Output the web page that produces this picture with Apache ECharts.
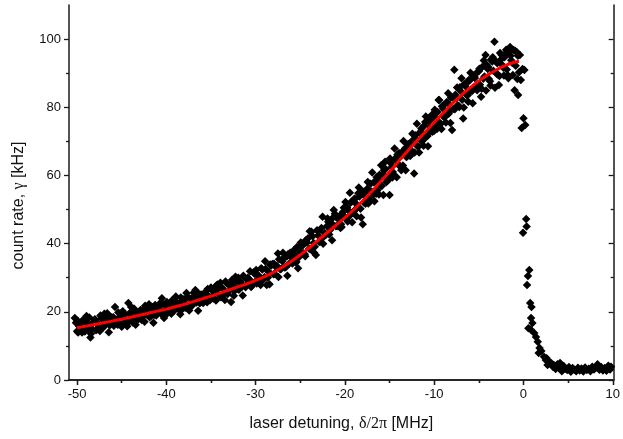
<!DOCTYPE html>
<html><head><meta charset="utf-8">
<script src="https://cdn.jsdelivr.net/npm/echarts@6/dist/echarts.min.js"></script>
<style>html,body{margin:0;padding:0;background:#fff}#c{width:623px;height:439px}</style>
</head><body><div id="c"></div>
<script>
// measured detuning (MHz), first set
const detuning = [
-50.25,-50.0,-49.75,-49.5,-49.25,-49.0,-48.75,-48.5,-48.25,-48.0,-47.75,-47.5,-47.25,-47.0,-46.75,-46.5,-46.25,-46.0,-45.75,-45.5,-45.25,-45.0,
-44.75,-44.5,-44.25,-44.0,-43.75,-43.5,-43.25,-43.0,-42.75,-42.5,-42.25,-42.0,-41.75,-41.5,-41.25,-41.0,-40.75,-40.5,-40.25,-40.0,
-39.75,-39.5,-39.25,-39.0,-38.75,-38.5,-38.25,-38.0,-37.75,-37.5,-37.25,-37.0,-36.75,-36.5,-36.25,-36.0,-35.75,-35.5,-35.25,-35.0,
-34.75,-34.5,-34.25,-34.0,-33.75,-33.5,-33.25,-33.0,-32.75,-32.5,-32.25,-32.0,-31.75,-31.5,-31.25,-31.0,-30.75,-30.5,-30.25,-30.0,
-29.75,-29.5,-29.25,-29.0,-28.75,-28.5,-28.25,-28.0,-27.75,-27.5,-27.25,-27.0,-26.75,-26.5,-26.25,-26.0,-25.75,-25.5,-25.25,-25.0,
-24.75,-24.5,-24.25,-24.0,-23.75,-23.5,-23.25,-23.0,-22.75,-22.5,-22.25,-22.0,-21.75,-21.5,-21.25,-21.0,-20.75,-20.5,-20.25,-20.0,
-19.75,-19.5,-19.25,-19.0,-18.75,-18.5,-18.25,-18.0,-17.75,-17.5,-17.25,-17.0,-16.75,-16.5,-16.25,-16.0,-15.75,-15.5,-15.25,-15.0,
-14.75,-14.5,-14.25,-14.0,-13.75,-13.5,-13.25,-13.0,-12.75,-12.5,-12.25,-12.0,-11.75,-11.5,-11.25,-11.0,-10.75,-10.5,-10.25,-10.0,
-9.75,-9.5,-9.25,-9.0,-8.75,-8.5,-8.25,-8.0,-7.75,-7.5,-7.25,-7.0,-6.75,-6.5,-6.25,-6.0,-5.75,-5.5,-5.25,-5.0,
-4.75,-4.5,-4.25,-4.0,-3.75,-3.5,-3.25,-3.0,-2.75,-2.5,-2.25,-2.0,-1.75,-1.5,-1.25,-1.0,-0.75,-0.5,
-0.6,-0.4,-0.3,-0.1,0.1,0.0,0.2,-0.2,0.3,0.35,-0.05,0.65,0.5,0.4,0.75,0.9,0.85,1.0,0.55,0.8,1.2,1.4,1.6,1.8,1.7,2.0,2.3,2.5,2.7,2.6,2.9,
3.1,3.3,3.4,3.6,3.8,4.0,4.1,4.3,4.5,4.7,4.9,5.1,5.3,5.5,5.7,5.9,6.1,6.3,6.5,6.7,6.9,7.1,7.3,7.5,7.7,7.9,8.1,8.3,8.5,8.7,8.9,9.1,9.3,9.5,9.7,9.8
];
// measured count rate (kHz), first set
const countRate = [
18.2,14.3,15.8,16.9,14.7,17.2,15.1,12.5,16.6,17.8,14.9,16.3,18.1,15.6,17.4,19.0,16.2,17.9,21.4,16.8,18.5,15.6,
19.3,17.2,22.6,18.9,16.9,20.1,18.3,19.8,17.6,20.7,19.2,21.1,18.7,20.3,22.0,19.5,21.6,24.0,18.2,20.9,
22.3,20.4,21.8,23.1,21.0,22.6,20.7,23.4,25.5,21.9,23.8,22.4,26.4,24.1,22.5,25.0,23.3,26.2,24.6,27.1,
23.9,25.8,28.0,24.7,26.9,25.3,28.4,26.0,22.9,27.6,30.3,26.8,28.9,27.4,30.1,28.0,29.6,27.3,31.5,29.0,
30.8,28.6,32.4,30.2,27.9,31.7,33.6,31.0,33.2,37.1,32.5,34.8,33.0,36.2,34.1,35.9,38.0,34.5,32.8,37.6,
39.4,36.9,40.3,38.5,43.5,40.2,36.7,42.4,40.6,47.9,43.1,45.2,42.7,46.0,49.9,45.1,47.3,44.6,49.2,47.8,
50.6,48.1,52.3,49.4,51.7,54.8,50.2,45.7,53.9,56.1,52.8,55.3,57.9,54.6,59.2,57.0,60.4,64.0,58.8,54.3,
62.5,60.1,65.3,63.2,66.4,62.9,68.0,65.6,69.3,67.2,60.6,70.8,68.5,72.9,70.3,75.7,71.6,74.4,77.8,73.1,
76.5,82.1,75.2,79.6,77.4,81.3,78.9,73.3,91.0,82.7,80.4,84.6,76.7,86.2,83.5,87.9,84.8,89.1,86.0,90.6,
83.1,88.4,95.3,91.2,87.6,93.4,99.2,89.8,86.5,94.1,91.6,95.8,89.4,97.7,93.0,85.0,96.2,90.3,
83.6,95.3,88.0,91.2,90.9,76.8,74.8,73.9,47.2,45.0,43.2,32.3,30.5,27.9,22.6,21.4,18.2,16.7,15.2,14.8,13.8,12.6,11.2,9.4,7.9,8.5,6.8,5.9,4.4,6.4,5.2,
5.0,3.9,4.4,3.2,4.6,3.5,5.0,2.6,4.1,3.3,2.9,3.8,2.4,3.5,3.0,2.6,3.6,2.8,3.4,2.5,3.7,2.9,3.3,2.6,3.9,3.1,3.6,4.6,3.0,3.8,2.8,3.5,2.7,4.2,3.1,3.9
];
// measured detuning (MHz), second set
const detuningB = [
-50.125,-49.875,-49.625,-49.375,-49.125,-48.875,-48.625,-48.375,-48.125,-47.875,-47.625,-47.375,-47.125,-46.875,-46.625,-46.375,
-46.125,-45.875,-45.625,-45.375,-45.125,-44.875,-44.625,-44.375,-44.125,-43.875,-43.625,-43.375,-43.125,-42.875,-42.625,-42.375,
-42.125,-41.875,-41.625,-41.375,-41.125,-40.875,-40.625,-40.375,-40.125,-39.875,-39.625,-39.375,-39.125,-38.875,-38.625,-38.375,
-38.125,-37.875,-37.625,-37.375,-37.125,-36.875,-36.625,-36.375,-36.125,-35.875,-35.625,-35.375,-35.125,-34.875,-34.625,-34.375,
-34.125,-33.875,-33.625,-33.375,-33.125,-32.875,-32.625,-32.375,-32.125,-31.875,-31.625,-31.375,-31.125,-30.875,-30.625,-30.375,
-30.125,-29.875,-29.625,-29.375,-29.125,-28.875,-28.625,-28.375,-28.125,-27.875,-27.625,-27.375,-27.125,-26.875,-26.625,-26.375,
-26.125,-25.875,-25.625,-25.375,-25.125,-24.875,-24.625,-24.375,-24.125,-23.875,-23.625,-23.375,-23.125,-22.875,-22.625,-22.375,
-22.125,-21.875,-21.625,-21.375,-21.125,-20.875,-20.625,-20.375,-20.125,-19.875,-19.625,-19.375,-19.125,-18.875,-18.625,-18.375,
-18.125,-17.875,-17.625,-17.375,-17.125,-16.875,-16.625,-16.375,-16.125,-15.875,-15.625,-15.375,-15.125,-14.875,-14.625,-14.375,
-14.125,-13.875,-13.625,-13.375,-13.125,-12.875,-12.625,-12.375,-12.125,-11.875,-11.625,-11.375,-11.125,-10.875,-10.625,-10.375,
-10.125,-9.875,-9.625,-9.375,-9.125,-8.875,-8.625,-8.375,-8.125,-7.875,-7.625,-7.375,-7.125,-6.875,-6.625,-6.375,
-6.125,-5.875,-5.625,-5.375,-5.125,-4.875,-4.625,-4.375,-4.125,-3.875,-3.625,-3.375,-3.125,-2.875,-2.625,-2.375,
-2.125,-1.875,-1.625,-1.375,-1.125,-0.875,-0.625
];
// measured count rate (kHz), second set
const countRateB = [
16.8,13.9,15.2,17.5,14.2,16.4,18.3,15.0,17.1,14.6,16.0,18.9,15.3,17.7,19.6,16.1,
18.4,15.9,17.0,19.8,16.5,20.2,17.9,15.8,19.6,17.3,21.0,18.0,17.8,20.5,18.6,21.8,
20.9,18.4,21.5,19.1,18.9,21.3,22.7,19.8,22.1,19.6,21.9,23.3,20.3,22.8,21.1,24.2,
23.7,21.2,24.5,22.0,21.8,24.6,22.7,25.3,25.1,22.6,24.9,26.7,23.4,26.3,25.2,27.8,
27.0,24.3,26.6,28.9,25.2,27.8,29.4,26.1,29.0,26.5,28.3,30.6,27.2,30.0,31.9,28.5,
31.2,28.3,30.5,32.8,29.5,32.6,30.1,33.9,34.0,31.2,33.5,35.4,32.6,35.8,33.1,36.9,
37.3,34.2,36.8,39.0,36.1,39.5,37.2,41.0,41.6,38.4,42.2,39.1,43.9,40.5,44.6,42.0,
42.6,46.4,44.1,47.5,48.8,45.2,47.9,44.9,50.5,47.2,49.8,52.0,49.3,53.1,50.6,53.8,
55.4,52.1,54.9,51.8,57.6,54.3,58.3,55.6,60.2,56.9,61.5,58.0,59.9,63.6,61.0,64.7,
66.1,62.8,65.9,67.5,65.4,69.2,66.8,70.4,71.8,68.6,72.5,70.0,74.6,71.5,76.0,73.0,
77.5,74.2,78.6,75.4,80.3,77.0,81.5,78.1,82.8,79.5,83.7,80.6,85.9,82.2,86.8,83.6,
88.0,84.9,89.3,86.1,90.4,86.6,91.8,89.0,92.5,88.3,94.0,90.7,93.6,89.6,95.9,92.4,
94.7,91.1,96.5,93.8,96.8,92.2,95.1
];
// measured detuning (MHz), third set
const detuningC = [
-49.94,-49.44,-48.94,-48.44,-47.94,-47.44,-46.94,-46.44,-45.94,-45.44,-44.94,-44.44,-43.94,-43.44,-42.94,-42.44,-41.94,-41.44,-40.94,-40.44,
-39.94,-39.44,-38.94,-38.44,-37.94,-37.44,-36.94,-36.44,-35.94,-35.44,-34.94,-34.44,-33.94,-33.44,-32.94,-32.44,-31.94,-31.44,-30.94,-30.44,
-29.94,-29.44,-28.94,-28.44,-27.94,-27.44,-26.94,-26.44,-25.94,-25.44,-24.94,-24.44,-23.94,-23.44,-22.94,-22.44,-21.94,-21.44,-20.94,-20.44,
-19.94,-19.69,-19.44,-19.19,-18.94,-18.69,-18.44,-18.19,-17.94,-17.69,-17.44,-17.19,-16.94,-16.69,-16.44,-16.19,-15.94,-15.69,-15.44,-15.19,
-14.94,-14.69,-14.44,-14.19,-13.94,-13.69,-13.44,-13.19,-12.94,-12.69,-12.44,-12.19,-11.94,-11.69,-11.44,-11.19,-10.94,-10.69,-10.44,-10.19,
-9.94,-9.69,-9.44,-9.19,-8.94,-8.69,-8.44,-8.19,-7.94,-7.69,-7.44,-7.19,-6.94,-6.69,-6.44,-6.19,-5.94,-5.69,-5.44,-5.19,
-4.94,-4.69,-4.44,-4.19,-3.94,-3.69,-3.44,-3.19,-2.94,-2.69,-2.44,-2.19,-1.94,-1.69,-1.44,-1.19,-0.94,-0.69
];
// measured count rate (kHz), third set
const countRateC = [
17.4,13.9,18.8,13.6,17.6,14.4,19.4,14.0,18.4,16.2,19.9,16.4,21.4,16.2,20.3,17.1,22.2,16.8,21.3,19.1,
22.9,19.4,24.5,19.3,23.5,20.4,25.6,20.3,24.9,22.8,26.7,23.3,28.5,23.5,27.7,24.7,30.0,24.8,29.5,27.6,
32.3,27.9,34.8,28.1,34.1,30.2,37.3,30.6,37.0,34.7,40.3,36.3,43.6,37.3,43.6,40.0,47.4,41.0,47.7,45.7,
52.2,46.5,54.9,46.3,53.2,48.0,56.5,47.7,55.2,51.7,58.1,52.4,60.9,52.4,59.5,54.4,63.0,54.3,61.9,58.5,
65.0,59.4,67.9,59.5,66.6,61.5,70.1,61.5,69.1,65.7,72.2,66.7,75.2,66.7,73.8,68.7,77.3,68.6,76.2,72.8,
79.3,73.6,82.1,73.6,80.7,75.5,84.1,75.4,82.9,79.4,85.8,80.1,88.5,79.9,86.9,81.6,90.1,81.2,88.6,85.0,
91.3,85.4,93.7,84.9,91.8,86.4,94.7,85.7,92.9,89.2,95.3,89.3,96.9,88.5,95.1,89.5,96.6,88.3
];
// fitted curve
const fitX = [-50,-49,-48,-47,-46,-45,-44,-43,-42,-41,-40,-39,-38,-37,-36,-35,-34,-33,-32,-31,-30,-29,-28,-27,-26,-25,-24,-23,-22,-21,-20,-19,-18,-17,-16,-15,-14,-13,-12,-11,-10,-9,-8,-7,-6,-5,-4,-3,-2,-1,-0.5];
const fitY = [15.3,15.8,16.3,16.8,17.3,17.8,18.4,19.0,19.6,20.2,20.8,21.5,22.2,23.0,23.8,24.6,25.5,26.4,27.3,28.2,29.2,30.3,31.6,33.1,34.8,36.7,38.8,41.0,43.2,45.4,47.6,50.0,52.6,55.3,58.2,61.1,64.1,67.1,70.0,72.8,75.6,78.3,81.0,83.4,85.7,87.7,89.5,91.0,92.3,93.2,93.5];
// tick values
const xMajor = [-50,-40,-30,-20,-10,0,10];
const xMinor = [-45,-35,-25,-15,-5,5];
const yMajor = [0,20,40,60,80,100];
const yMinor = [10,30,50,70,90];

const chart = echarts.init(document.getElementById('c'), null, {renderer:'canvas'});
const axisCol = '#1a1a1a';
const font = 'Liberation Sans, Arial, sans-serif';
const X0 = -50.9, X1 = 10.1, Y0 = 0, Y1 = 110;
function xa(pos, vals, len, inside, main, extra) {
  return Object.assign({
    type:'value', position:pos, min:X0, max:X1,
    axisLine:{show:main, lineStyle:{color:axisCol, width:1.5}},
    axisTick:{show:true, inside:inside, length:len, customValues:vals, lineStyle:{color:axisCol, width:1.3}},
    axisLabel:{show:false, customValues:vals},
    splitLine:{show:false}
  }, extra||{});
}
function ya(pos, vals, len, inside, main, extra) {
  return Object.assign({
    type:'value', position:pos, min:Y0, max:Y1,
    axisLine:{show:main, onZero:false, lineStyle:{color:axisCol, width:1.5}},
    axisTick:{show:true, inside:inside, length:len, customValues:vals, lineStyle:{color:axisCol, width:1.3}},
    axisLabel:{show:false, customValues:vals},
    splitLine:{show:false}
  }, extra||{});
}
const scatterData = detuning.map((x,i)=>[x,countRate[i]])
  .concat(detuningB.map((x,i)=>[x,countRateB[i]]))
  .concat(detuningC.map((x,i)=>[x,countRateC[i]]));
const fitData = fitX.map((x,i)=>[x,fitY[i]]);
chart.setOption({
  animation:false,
  backgroundColor:'#fff',
  grid:{left:69, right:9, top:5, bottom:59, containLabel:false},
  xAxis:[
    xa('bottom', xMajor, 5, false, true, {
      axisLabel:{show:true, customValues:xMajor, margin:8, color:'#111', fontSize:13, fontFamily:font,
        formatter:v=>String(Math.round(v))},
      name:'{a|laser detuning, }{g|δ/2π}{a| [MHz]}', nameLocation:'middle', nameGap:36,
      nameTextStyle:{rich:{a:{fontSize:16, fontFamily:font, color:'#111'}, g:{fontSize:16, fontFamily:'Liberation Serif, serif', color:'#111'}}}
    }),
    xa('bottom', xMinor, 3, false, false),
    xa('top', xMajor, 5, true, true),
    xa('top', xMinor, 3, true, false)
  ],
  yAxis:[
    ya('left', yMajor, 5, false, true, {
      axisLabel:{show:true, customValues:yMajor, margin:8, color:'#111', fontSize:13, fontFamily:font},
      name:'{a|count rate, }{g|γ}{a| [kHz]}', nameLocation:'middle', nameGap:42,
      nameTextStyle:{padding:[0,26,0,0], rich:{a:{fontSize:16, fontFamily:font, color:'#111'}, g:{fontSize:16, fontFamily:'Liberation Serif, serif', color:'#111'}}}
    }),
    ya('left', yMinor, 3, false, false),
    ya('right', yMajor, 5, true, true),
    ya('right', yMinor, 3, true, false)
  ],
  series:[
    {type:'scatter', xAxisIndex:0, yAxisIndex:0, data:scatterData, symbol:'diamond', symbolSize:8.5,
      itemStyle:{color:'#000', opacity:1}, z:2},
    {type:'line', xAxisIndex:0, yAxisIndex:0, data:fitData, smooth:0.5, showSymbol:false, symbol:'none',
      lineStyle:{color:'#ff0000', width:3}, z:3}
  ]
});
</script></body></html>
